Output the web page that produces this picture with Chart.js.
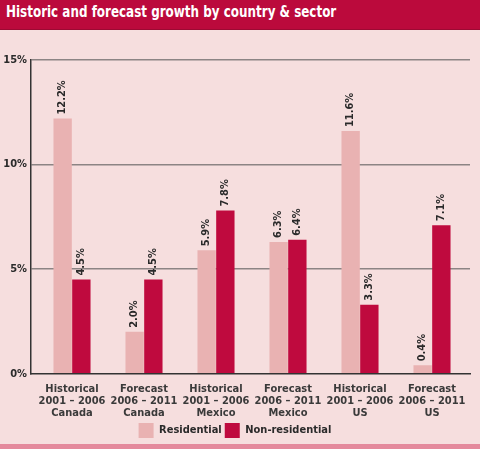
<!DOCTYPE html>
<html>
<head>
<meta charset="utf-8">
<script src="https://cdn.jsdelivr.net/npm/chart.js@4.4.0/dist/chart.umd.min.js"></script>
<style>
  html, body { margin: 0; padding: 0; }
  body { width: 480px; height: 449px; background: #f6dede; position: relative; overflow: hidden; }
  #title {
    position: absolute; left: 0; top: 0; width: 480px; height: 30px;
    background: #bb0a3c; border-bottom: 1px solid #9c0a33; box-sizing: border-box;
  }
  #title span {
    display: inline-block; color: #fff; white-space: nowrap;
    font: bold 16px 'Liberation Sans Narrow', 'DejaVu Sans Condensed', sans-serif;
    line-height: 24px; margin-left: 6px;
    transform: scaleX(0.83); transform-origin: left center;
  }
  #band { position: absolute; left: 0; top: 444px; width: 480px; height: 5px; background: #e4899c; }
  #wrap { position: absolute; left: 0; top: 0; width: 480px; height: 449px; }
</style>
</head>
<body>
<div id="wrap"><canvas id="chart"></canvas></div>
<div id="title"><span>Historic and forecast growth by country &amp; sector</span></div>
<div id="band"></div>
<script>
const FONT = "'Liberation Sans Narrow', 'DejaVu Sans Condensed', sans-serif";

// Dades llegides del gràfic
const categories = [
    ['Historical', '2001 – 2006', 'Canada'],
    ['Forecast', '2006 – 2011', 'Canada'],
    ['Historical', '2001 – 2006', 'Mexico'],
    ['Forecast', '2006 – 2011', 'Mexico'],
    ['Historical', '2001 – 2006', 'US'],
    ['Forecast', '2006 – 2011', 'US']
];
const residential = [12.2, 2.0, 5.9, 6.3, 11.6, 0.4];
const nonResidential = [4.5, 4.5, 7.8, 6.4, 3.3, 7.1];
const yTicks = [0, 5, 10, 15];

// Deixa un petit marge entre l'eix Y i la primera categoria
const insetCategories = {
    id: 'insetCategories',
    afterLayout(chart) {
        const x = chart.scales.x;
        const start = x.left + 5;
        const end = x.right - 2;
        x._startPixel = start;
        x._endPixel = end;
        x._length = end - start;
    }
};

// Etiquetes verticals sobre les barres
const barLabels = {
    id: 'barLabels',
    afterDatasetsDraw(chart) {
        const ctx = chart.ctx;
        ctx.save();
        ctx.font = 'bold 11px ' + FONT;
        ctx.fillStyle = '#2a2a2a';
        ctx.textAlign = 'left';
        ctx.textBaseline = 'middle';
        chart.data.datasets.forEach((ds, i) => {
            chart.getDatasetMeta(i).data.forEach((bar, j) => {
                ctx.save();
                ctx.translate(bar.x, bar.y - 4);
                ctx.rotate(-Math.PI / 2);
                ctx.fillText(ds.data[j].toFixed(1) + '%', 0, 0);
                ctx.restore();
            });
        });
        ctx.restore();
    }
};

new Chart(document.getElementById('chart'), {
    type: 'bar',
    data: {
        labels: categories,
        datasets: [
            {
                label: 'Residential',
                data: residential,
                backgroundColor: '#e9b2b2',
                categoryPercentage: 0.52,
                barPercentage: 0.98
            },
            {
                label: 'Non-residential',
                data: nonResidential,
                backgroundColor: '#bf0a3e',
                categoryPercentage: 0.52,
                barPercentage: 0.98
            }
        ]
    },
    options: {
        responsive: true,
        maintainAspectRatio: false,
        animation: false,
        layout: { padding: { top: 60, right: 10, left: 0, bottom: 1 } },
        plugins: {
            legend: {
                position: 'bottom',
                labels: {
                    boxWidth: 15,
                    boxHeight: 15,
                    padding: 3,
                    color: '#2a2a2a',
                    font: { family: FONT, size: 11, weight: 'bold' }
                }
            },
            tooltip: { enabled: false }
        },
        scales: {
            x: {
                grid: { display: false },
                border: { color: '#333', width: 1.5 },
                ticks: {
                    color: '#3a3a3a',
                    padding: 1,
                    maxRotation: 0,
                    font: { family: FONT, size: 11, weight: 'bold', lineHeight: 1.1 }
                }
            },
            y: {
                min: 0,
                max: 15,
                afterFit(axis) { axis.width = 31; },
                afterBuildTicks(axis) { axis.ticks = yTicks.map(v => ({ value: v })); },
                grid: {
                    color: (c) => c.tick && c.tick.value === 0 ? 'rgba(0,0,0,0)' : '#8c8484',
                    lineWidth: 1.5,
                    drawTicks: false
                },
                border: { color: '#333', width: 1.5 },
                ticks: {
                    color: '#2a2a2a',
                    padding: 4,
                    font: { family: FONT, size: 11, weight: 'bold' },
                    callback: (v) => v + '%'
                }
            }
        }
    },
    plugins: [insetCategories, barLabels]
});
</script>
</body>
</html>
